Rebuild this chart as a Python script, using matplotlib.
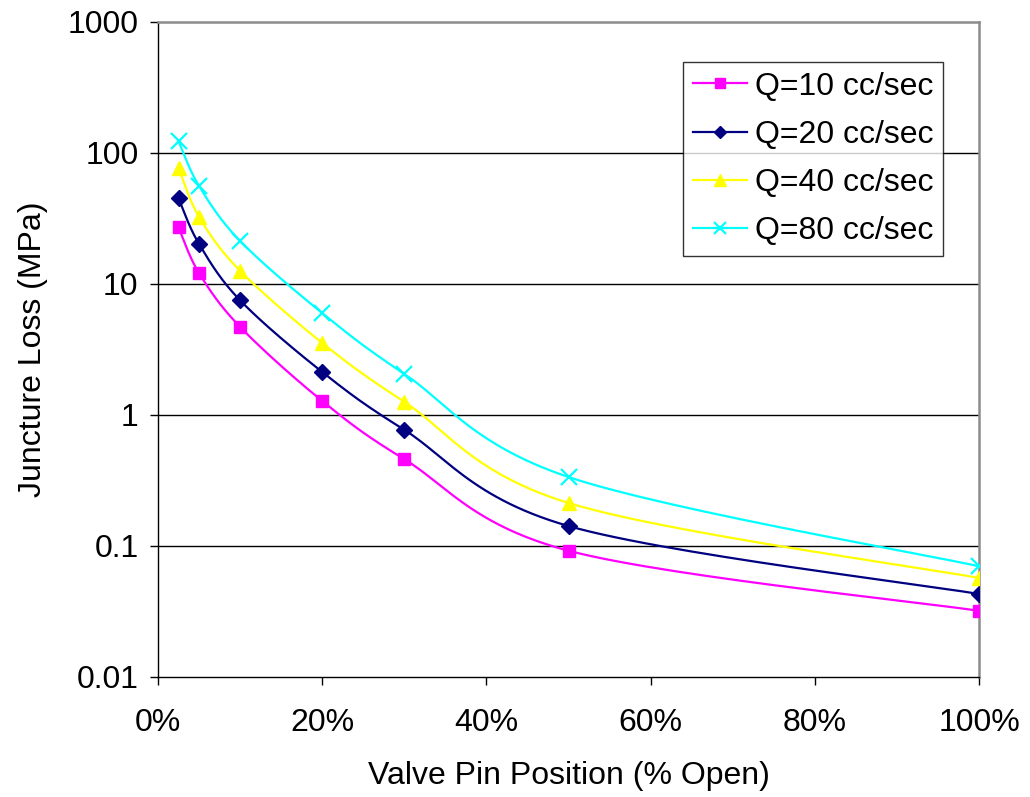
import matplotlib
matplotlib.use("Agg")
import matplotlib.pyplot as plt
from matplotlib.ticker import FixedLocator, FuncFormatter
import numpy as np

plt.rcParams["font.family"] = ["Liberation Sans", "DejaVu Sans"]

# Valve pin opening (fraction open) and junction loss per flow rate (MPa)
pin_open = [0.025, 0.05, 0.10, 0.20, 0.30, 0.50, 1.00]
loss_q10 = [27.0, 12.1, 4.7, 1.28, 0.46, 0.092, 0.032]
loss_q20 = [45.0, 20.2, 7.5, 2.13, 0.77, 0.142, 0.043]
loss_q40 = [77.0, 32.5, 12.6, 3.55, 1.26, 0.213, 0.057]
loss_q80 = [123.0, 56.0, 21.3, 6.0, 2.06, 0.336, 0.070]
series_labels = ["Q=10 cc/sec", "Q=20 cc/sec", "Q=40 cc/sec", "Q=80 cc/sec"]


def smooth_curve(x, y, n=30):
    """Catmull-Rom curve through the points in (x, log10 y) space."""
    px = np.asarray(x, float)
    py = np.log10(np.asarray(y, float))
    P = np.column_stack([px, py])
    P = np.vstack([P[0], P, P[-1]])
    out = []
    t = np.linspace(0, 1, n)[:, None]
    for i in range(1, len(P) - 2):
        p0, p1, p2, p3 = P[i - 1], P[i], P[i + 1], P[i + 2]
        c1 = p1 + (p2 - p0) / 6.0
        c2 = p2 - (p3 - p1) / 6.0
        seg = ((1 - t) ** 3) * p1 + 3 * ((1 - t) ** 2) * t * c1 + 3 * (1 - t) * t ** 2 * c2 + t ** 3 * p2
        out.append(seg if i == 1 else seg[1:])
    out = np.vstack(out)
    return out[:, 0], 10 ** out[:, 1]


fig = plt.figure(figsize=(10.30, 7.97), dpi=100)
ax = fig.add_axes([0.1534, 0.1506, 0.7971, 0.8218])

styles = [
    dict(color="#ff00ff", marker="s", ms=9),
    dict(color="#000080", marker="D", ms=8),
    dict(color="#ffff00", marker="^", ms=10),
    dict(color="#00ffff", marker="x", ms=11, mew=1.6),
]
for ys, lab, st in zip([loss_q10, loss_q20, loss_q40, loss_q80], series_labels, styles):
    sx, sy = smooth_curve(pin_open, ys)
    ax.plot(sx, sy, color=st["color"], lw=1.6, zorder=3)
    ax.plot(pin_open, ys, linestyle="none", zorder=4, **st)
    # legend proxy: line with marker
    ax.plot([], [], color=st["color"], lw=1.6, marker=st["marker"],
            ms=st["ms"] * 0.8, mew=st.get("mew", 1.0), label=lab)

ax.set_yscale("log")
ax.set_xlim(0, 1)
ax.set_ylim(0.01, 1000)
ax.yaxis.set_major_locator(FixedLocator([0.01, 0.1, 1, 10, 100, 1000]))
ax.yaxis.set_minor_locator(FixedLocator([]))
ax.yaxis.set_major_formatter(FuncFormatter(lambda v, p: f"{v:g}"))
ax.xaxis.set_major_locator(FixedLocator([0, 0.2, 0.4, 0.6, 0.8, 1.0]))
ax.xaxis.set_major_formatter(FuncFormatter(lambda v, p: f"{v * 100:.0f}%"))

for v in [0.1, 1, 10, 100]:
    ax.axhline(v, color="black", lw=1.0, zorder=1)

for s in ["top", "right"]:
    ax.spines[s].set_color("#8c8c8c")
    ax.spines[s].set_linewidth(1.8)
for s in ["left", "bottom"]:
    ax.spines[s].set_color("black")
    ax.spines[s].set_linewidth(1.0)

ax.tick_params(axis="both", direction="out", length=6, width=1, labelsize=23, colors="black")
ax.tick_params(axis="x", pad=16)
ax.tick_params(axis="y", pad=8)

ax.set_xlabel("Valve Pin Position (% Open)", fontsize=23, labelpad=17)
ax.set_ylabel("Juncture Loss (MPa)", fontsize=23, labelpad=14)

leg = ax.legend(loc="upper right", bbox_to_anchor=(0.9565, 0.939), fontsize=23, frameon=True,
                fancybox=False, edgecolor="black", handlelength=1.7, borderpad=0.3,
                labelspacing=0.57, handletextpad=0.25, borderaxespad=0)
leg.get_frame().set_linewidth(1.0)

fig.savefig("out.png", dpi=100)
